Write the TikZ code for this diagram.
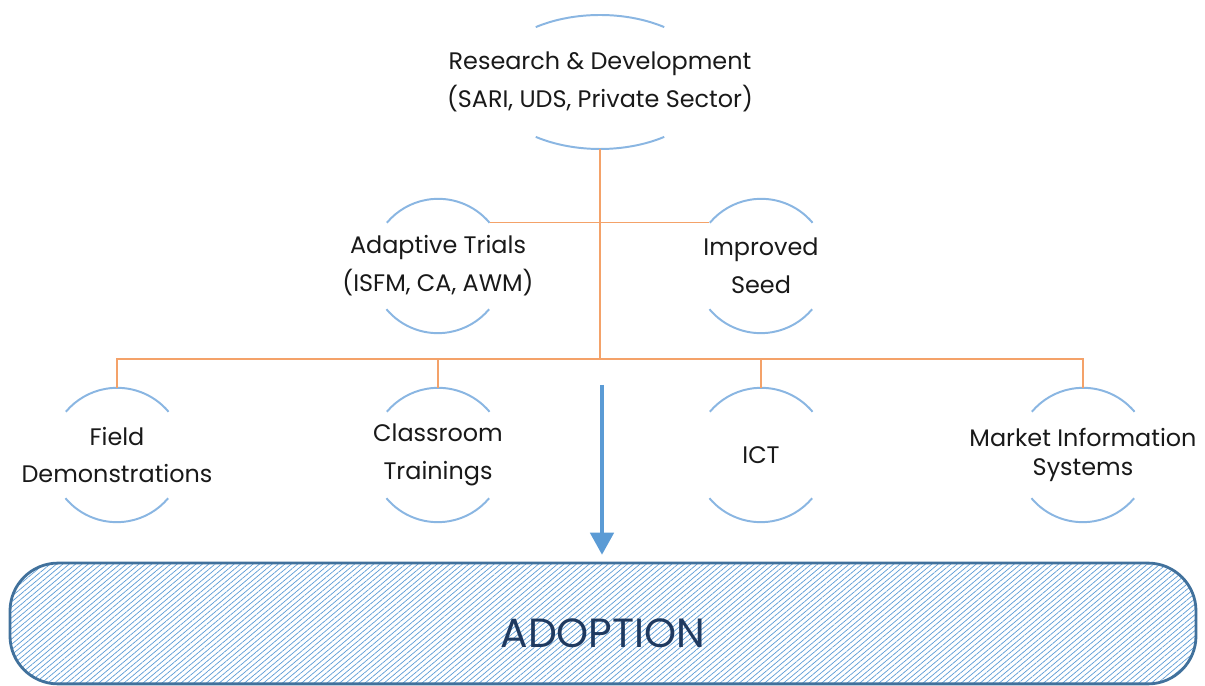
\documentclass[tikz,border=0pt]{standalone}
\usepackage{fontspec}
\setmainfont{Poppins}
\usetikzlibrary{shapes.geometric,arrows.meta,patterns.meta,calc}

\definecolor{arcblue}{HTML}{8AB6E2}
\definecolor{treeorange}{HTML}{F4A269}
\definecolor{flowblue}{HTML}{5B9BD5}
\definecolor{boxblue}{HTML}{41719C}
\definecolor{navy}{HTML}{1F3A60}

\tikzset{
  hub/.style={circle, minimum size=3.35cm, inner sep=0pt},
  hubtext/.style={align=center, font=\fontsize{17}{27}\selectfont, text=black!90},
  rim/.style={arcblue, line width=1.4pt},
  tree/.style={treeorange, line width=1pt},
  flow/.style={flowblue, line width=2.8pt, -{Triangle[width=0.58cm,length=0.55cm]}},
  adoptbox/.style={rectangle, rounded corners=1.2cm, draw=boxblue, line width=2pt,
    minimum width=29.65cm, minimum height=3.02cm,
    pattern={Lines[angle=40,distance=2.9pt,line width=0.5pt]}, pattern color=flowblue}
}

\begin{document}
\begin{tikzpicture}

    \useasboundingbox (0,0) rectangle (30.125,17.15);

    % top level
    \node[hub, ellipse, minimum width=5.6cm,
        label={[hubtext]center:Research \& Development\\(SARI, UDS, Private Sector)}] (rd) at (15,15.1) {};
    \draw[rim] ($(rd.center)+(55:2.8 and 1.675)$) arc[start angle=55,end angle=125,x radius=2.8,y radius=1.675];
    \draw[rim] ($(rd.center)+(235:2.8 and 1.675)$) arc[start angle=235,end angle=305,x radius=2.8,y radius=1.675];

    % second level
    \node[hub, label={[hubtext]center:Adaptive Trials\\(ISFM, CA, AWM)}] (at) at (10.95,10.5) {};
    \node[hub, label={[hubtext]center:Improved\\Seed}] (seed) at (19.025,10.5) {};

    % third level
    \node[hub, label={[hubtext]center:Field\\Demonstrations}] (fd) at (2.925,5.775) {};
    \node[hub, label={[hubtext]center:Classroom\\Trainings}] (ct) at (10.95,5.775) {};
    \node[hub, label={[hubtext]center:ICT}] (ict) at (19.025,5.775) {};
    \node[hub, label={[hubtext, font=\fontsize{17}{20}\selectfont]center:Market Information\\Systems}] (mis) at (27.075,5.775) {};

    \foreach \n in {at,seed,fd,ct,ict,mis}{
        \draw[rim] (\n.40) arc[start angle=40,end angle=140,radius=1.675];
        \draw[rim] (\n.220) arc[start angle=220,end angle=320,radius=1.675];
    }

    % orange tree
    \coordinate (bus) at (15,8.175);
    \draw[tree] (rd.south) -- (bus);
    \draw[tree] (at.40) -- (seed.140);
    \draw[tree] (fd.north) -- (fd.north |- bus) -- (mis.north |- bus) -- (mis.north);
    \draw[tree] (ct.north) -- (ct.north |- bus);
    \draw[tree] (ict.north) -- (ict.north |- bus);

    % adoption
    \node[adoptbox] (adopt) at (15.075,1.5625) {};
    \node[font=\fontsize{29}{32}\selectfont, text=navy] (adoptlabel) at ($(adopt.center)+(0,-0.24)$) {ADOPTION};

    \coordinate (go) at (15.05,7.525);
    \draw[flow] (go) -- ($(adopt.north -| go)+(0,0.2)$);

\end{tikzpicture}
\end{document}
